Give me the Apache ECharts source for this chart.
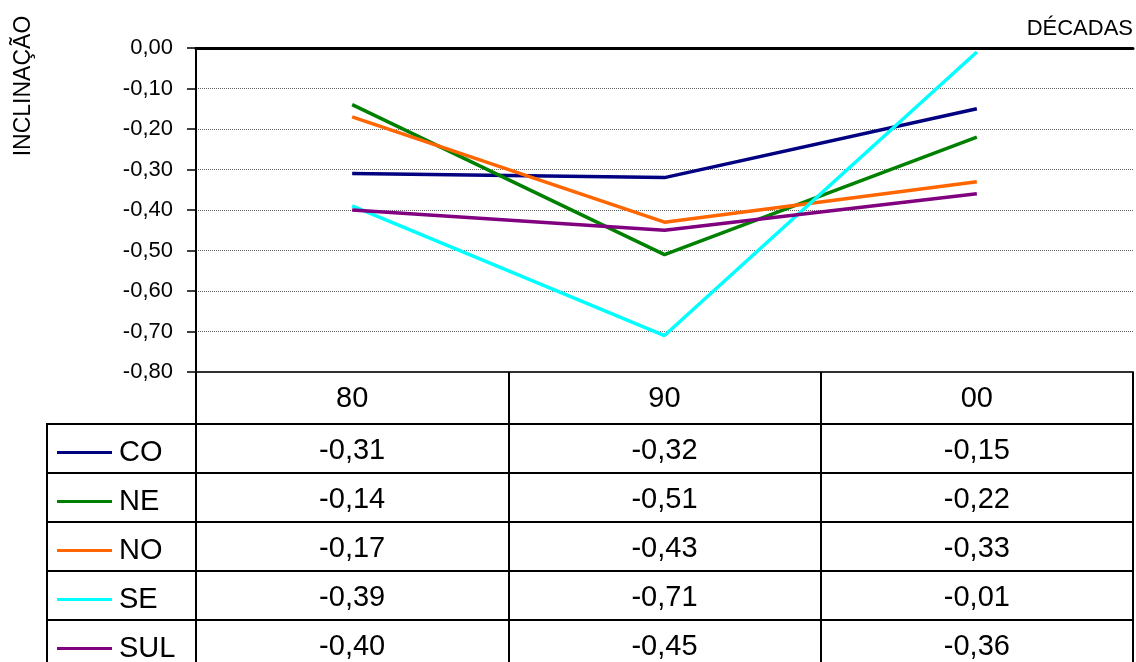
<!DOCTYPE html>
<html>
<head>
<meta charset="utf-8">
<title>Inclinação por década</title>
<script src="https://cdn.jsdelivr.net/npm/echarts@6/dist/echarts.min.js"></script>
<style>
  html, body { margin: 0; padding: 0; background: #ffffff; }
  #chart { width: 1136px; height: 662px; }
</style>
</head>
<body>
<div id="chart"></div>
<script>
// Décadas (categorias do eixo X)
const categories = ['80', '90', '00'];

// Inclinação por região e década
const regionNames = ['CO', 'NE', 'NO', 'SE', 'SUL'];
const coValues  = [-0.31, -0.32, -0.15];
const neValues  = [-0.14, -0.51, -0.22];
const noValues  = [-0.17, -0.43, -0.33];
const seValues  = [-0.39, -0.71, -0.01];
const sulValues = [-0.40, -0.45, -0.36];

const regionValues = [coValues, neValues, noValues, seValues, sulValues];
const regionColors = ['#000080', '#008000', '#FF6600', '#00FFFF', '#800080'];

const FONT = "'Liberation Sans', Arial, Helvetica, sans-serif";

// Layout of the chart area and the data table underneath it
const GRID_LEFT = 196, GRID_TOP = 48, GRID_HEIGHT = 324, GRID_RIGHT = 3;
const TABLE_LEFT = 47;
const HEADER_H = 52;     // row holding the decade labels
const ROW_H = 49;        // one row per region
const gridBottomY = GRID_TOP + GRID_HEIGHT;

const fmt = v => v.toFixed(2).replace('.', ',');

const chart = echarts.init(document.getElementById('chart'), null, { renderer: 'canvas' });

// X axes: 0 = decade header row (with column rules), 1 = top rule at 0,00,
// 2.. = one axis per table row showing the region values
const xAxes = [
  {
    type: 'category',
    data: categories,
    position: 'bottom',
    boundaryGap: true,
    axisLine: { onZero: false, lineStyle: { color: '#303030', width: 2 } },
    axisTick: { show: true, length: 300, lineStyle: { color: '#000', width: 2 } },
    axisLabel: {
      color: '#000', fontFamily: FONT, fontSize: 29,
      verticalAlign: 'middle', margin: HEADER_H / 2 + 1
    },
    splitLine: { show: false }
  },
  {
    type: 'category',
    data: categories,
    position: 'top',
    boundaryGap: true,
    axisLine: { onZero: false, lineStyle: { color: '#000', width: 3 } },
    axisTick: { show: false },
    axisLabel: { show: false },
    splitLine: { show: false }
  }
];

regionValues.forEach((vals, i) => {
  xAxes.push({
    type: 'category',
    data: categories,
    position: 'bottom',
    offset: HEADER_H + i * ROW_H,
    boundaryGap: true,
    axisLine: { onZero: false, lineStyle: { color: '#000', width: 2 } },
    axisTick: { show: false },
    axisLabel: {
      color: '#000', fontFamily: FONT, fontSize: 29,
      verticalAlign: 'middle', margin: ROW_H / 2 + 2,
      formatter: (value, idx) => fmt(vals[idx])
    },
    splitLine: { show: false }
  });
});

// Left column of the table (region names) ruled by hand
const tableGraphics = [];
for (let i = 0; i <= regionNames.length; i++) {
  const y = gridBottomY + HEADER_H + i * ROW_H;
  tableGraphics.push({
    type: 'line',
    shape: { x1: TABLE_LEFT, y1: y, x2: GRID_LEFT, y2: y },
    style: { stroke: '#000', lineWidth: 2 }
  });
}
tableGraphics.push({
  type: 'line',
  shape: { x1: TABLE_LEFT, y1: gridBottomY + HEADER_H - 1, x2: TABLE_LEFT, y2: 700 },
  style: { stroke: '#000', lineWidth: 2 }
});

const option = {
  backgroundColor: '#ffffff',
  animation: false,
  grid: { left: GRID_LEFT, right: GRID_RIGHT, top: GRID_TOP, height: GRID_HEIGHT, containLabel: false },
  legend: {
    data: regionNames,
    orient: 'vertical',
    left: 57,
    top: gridBottomY + HEADER_H + 4,
    width: 140,
    height: 400,
    padding: 0,
    itemGap: 0,
    icon: 'rect',
    itemWidth: 55,
    itemHeight: 3,
    selectedMode: false,
    textStyle: {
      color: '#000', fontFamily: FONT, fontSize: 29,
      lineHeight: ROW_H, padding: [0, 0, 0, 2]
    }
  },
  xAxis: xAxes,
  yAxis: {
    type: 'value',
    min: -0.8,
    max: 0,
    interval: 0.1,
    axisLine: { show: true, onZero: false, lineStyle: { color: '#000', width: 2 } },
    axisTick: { show: true, length: 9, lineStyle: { color: '#000', width: 1.5 } },
    axisLabel: { color: '#000', fontFamily: FONT, fontSize: 22, margin: 23, formatter: v => fmt(v) },
    splitLine: { show: true, lineStyle: { color: '#606060', width: 1, type: [1, 1] } }
  },
  series: regionNames.map((name, i) => ({
    name: name,
    type: 'line',
    xAxisIndex: 0,
    yAxisIndex: 0,
    data: regionValues[i],
    showSymbol: false,
    symbol: 'none',
    lineStyle: { color: regionColors[i], width: 3.5 },
    itemStyle: { color: regionColors[i] },
    z: 3
  })),
  graphic: [
    {
      type: 'text',
      x: 24, y: 86,
      rotation: Math.PI / 2,
      style: {
        text: 'INCLINAÇÃO', fill: '#000', font: '23px ' + FONT,
        align: 'center', verticalAlign: 'middle'
      }
    },
    {
      type: 'text',
      x: 1133, y: 29,
      style: {
        text: 'DÉCADAS', fill: '#000', font: '22px ' + FONT,
        align: 'right', verticalAlign: 'middle'
      }
    }
  ].concat(tableGraphics)
};

chart.setOption(option);
</script>
</body>
</html>
